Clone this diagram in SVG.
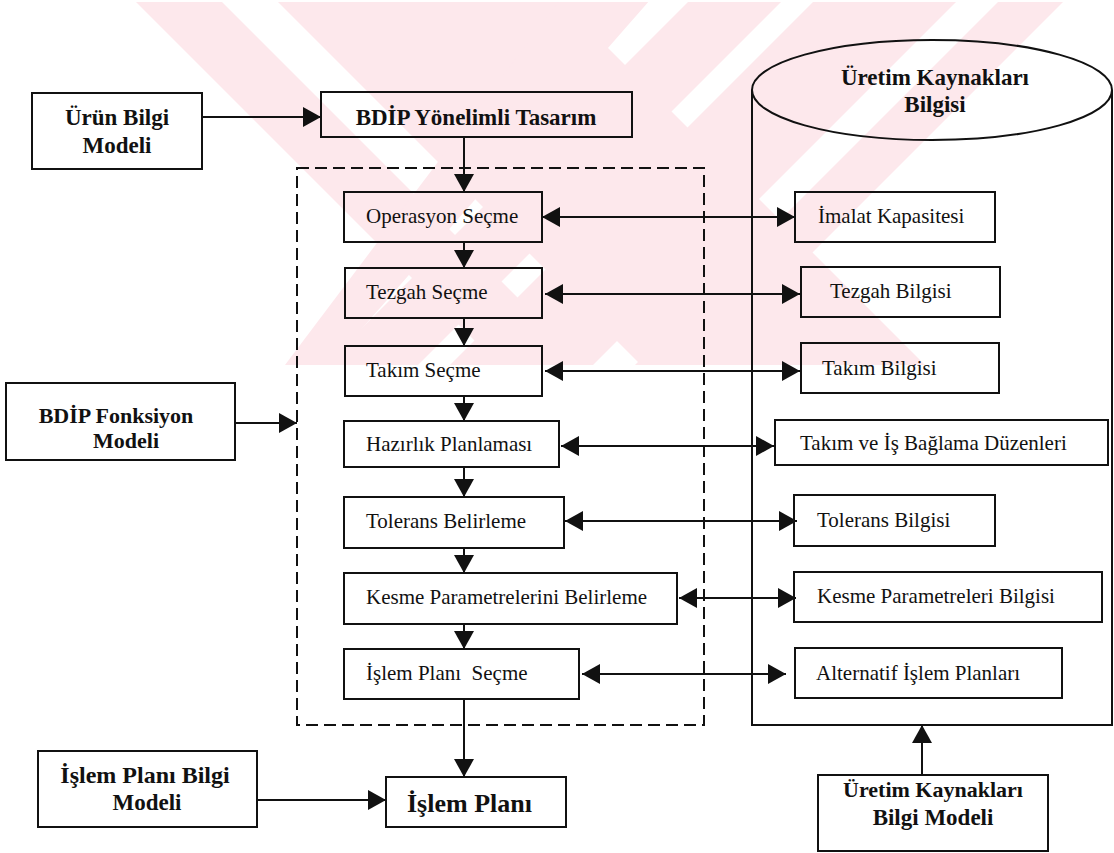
<svg xmlns="http://www.w3.org/2000/svg" width="1114" height="853" viewBox="0 0 1114 853">
<defs>
<style>
.box{fill:none;stroke:#111;stroke-width:2}
.dash{fill:none;stroke:#111;stroke-width:2;stroke-dasharray:12 6}
.ln{fill:none;stroke:#111;stroke-width:2}
.b{font-family:"Liberation Serif","Times New Roman",serif;font-weight:bold;font-size:23px;fill:#111}
.r{font-family:"Liberation Serif","Times New Roman",serif;font-size:21px;fill:#111}
.wm{fill:#fde8ec}
</style>
<marker id="ah" markerUnits="userSpaceOnUse" markerWidth="18" markerHeight="22" refX="18" refY="10" orient="auto-start-reverse" viewBox="0 0 18 20">
<path d="M0,0 L18,10 L0,20 z" fill="#111"/>
</marker>
<clipPath id="wmclip"><rect x="125" y="2" width="987" height="363"/></clipPath>
</defs>
<rect width="1114" height="853" fill="#fff"/>
<g id="watermark" clip-path="url(#wmclip)">
<polygon class="wm" points="134,0 220,0 590,370 504,370"/>
<polygon class="wm" points="276,0 560,0 930,370 646,370"/>
<polygon class="wm" points="560,0 650,0 330,365 285,365"/>
<polygon class="wm" points="690,0 783,0 413,370 320,370"/>
<polygon class="wm" points="815,0 958,0 588,370 445,370"/>
<polygon class="wm" points="1000,0 1065,0 695,370 630,370"/>
</g>
<g id="connectors">
<line class="ln" x1="202" y1="117" x2="321" y2="117" marker-end="url(#ah)"/>
<line class="ln" x1="464" y1="137" x2="464" y2="192" marker-end="url(#ah)"/>
<line class="ln" x1="235" y1="423" x2="297" y2="423" marker-end="url(#ah)"/>
<line class="ln" x1="464" y1="242" x2="464" y2="268" marker-end="url(#ah)"/>
<line class="ln" x1="464" y1="318" x2="464" y2="346" marker-end="url(#ah)"/>
<line class="ln" x1="464" y1="396" x2="464" y2="421" marker-end="url(#ah)"/>
<line class="ln" x1="464" y1="467" x2="464" y2="497" marker-end="url(#ah)"/>
<line class="ln" x1="464" y1="548" x2="464" y2="573" marker-end="url(#ah)"/>
<line class="ln" x1="464" y1="624" x2="464" y2="649" marker-end="url(#ah)"/>
<line class="ln" x1="464" y1="699" x2="464" y2="777" marker-end="url(#ah)"/>
<line class="ln" x1="257" y1="800" x2="386" y2="800" marker-end="url(#ah)"/>
<line class="ln" x1="922" y1="775" x2="922" y2="725" marker-end="url(#ah)"/>
<line class="ln" x1="542" y1="217" x2="795" y2="217" marker-start="url(#ah)" marker-end="url(#ah)"/>
<line class="ln" x1="545" y1="294" x2="800" y2="294" marker-start="url(#ah)" marker-end="url(#ah)"/>
<line class="ln" x1="545" y1="371" x2="800" y2="371" marker-start="url(#ah)" marker-end="url(#ah)"/>
<line class="ln" x1="561" y1="446" x2="774" y2="446" marker-start="url(#ah)" marker-end="url(#ah)"/>
<line class="ln" x1="565" y1="521" x2="797" y2="521" marker-start="url(#ah)" marker-end="url(#ah)"/>
<line class="ln" x1="679" y1="598" x2="796" y2="598" marker-start="url(#ah)" marker-end="url(#ah)"/>
<line class="ln" x1="582" y1="674" x2="786" y2="674" marker-start="url(#ah)" marker-end="url(#ah)"/>
</g>
<g id="dashed-frame">
<rect class="dash" x="297" y="168" width="407" height="557"/>
</g>
<g id="urun-bilgi-modeli">
<rect class="box" x="32" y="93" width="170" height="76"/>
<text class="b" x="117" y="125" text-anchor="middle">Ürün Bilgi</text>
<text class="b" x="117" y="153" text-anchor="middle">Modeli</text>
</g>
<g id="bdip-yonelimli">
<rect class="box" x="321" y="92" width="311" height="45"/>
<text class="b" x="476" y="125" text-anchor="middle">BDİP Yönelimli Tasarım</text>
</g>
<g id="uretim-kaynaklari-bilgisi">
<path class="box" d="M752,90 L752,725 L1112,725 L1112,90"/>
<ellipse class="box" cx="932" cy="90" rx="180" ry="50"/>
<text class="b" x="935" y="85" text-anchor="middle">Üretim Kaynakları</text>
<text class="b" x="935" y="112" text-anchor="middle">Bilgisi</text>
</g>
<g id="bdip-fonksiyon">
<rect class="box" x="6" y="383" width="229" height="77"/>
<text class="b" x="116" y="423" text-anchor="middle" style="font-size:22px">BDİP Fonksiyon</text>
<text class="b" x="126" y="448" text-anchor="middle" style="font-size:22px">Modeli</text>
</g>
<g id="operasyon-secme">
<rect class="box" x="344" y="192" width="198" height="50"/>
<text class="r" x="366" y="223">Operasyon Seçme</text>
</g>
<g id="tezgah-secme">
<rect class="box" x="345" y="268" width="197" height="50"/>
<text class="r" x="366" y="299">Tezgah Seçme</text>
</g>
<g id="takim-secme">
<rect class="box" x="345" y="346" width="197" height="50"/>
<text class="r" x="366" y="377">Takım Seçme</text>
</g>
<g id="hazirlik-planlamasi">
<rect class="box" x="344" y="421" width="215" height="46"/>
<text class="r" x="366" y="451">Hazırlık Planlaması</text>
</g>
<g id="tolerans-belirleme">
<rect class="box" x="344" y="497" width="220" height="51"/>
<text class="r" x="366" y="528">Tolerans Belirleme</text>
</g>
<g id="kesme-parametrelerini">
<rect class="box" x="344" y="573" width="333" height="51"/>
<text class="r" x="366" y="604">Kesme Parametrelerini Belirleme</text>
</g>
<g id="islem-plani-secme">
<rect class="box" x="344" y="649" width="235" height="50"/>
<text class="r" x="366" y="680" xml:space="preserve">İşlem Planı  Seçme</text>
</g>
<g id="imalat-kapasitesi">
<rect class="box" x="795" y="192" width="200" height="50"/>
<text class="r" x="818" y="223">İmalat Kapasitesi</text>
</g>
<g id="tezgah-bilgisi">
<rect class="box" x="801" y="267" width="199" height="50"/>
<text class="r" x="830" y="298">Tezgah Bilgisi</text>
</g>
<g id="takim-bilgisi">
<rect class="box" x="801" y="343" width="198" height="50"/>
<text class="r" x="822" y="375">Takım Bilgisi</text>
</g>
<g id="takim-is-baglama">
<rect class="box" x="775" y="420" width="333" height="45"/>
<text class="r" x="800" y="450">Takım ve İş Bağlama Düzenleri</text>
</g>
<g id="tolerans-bilgisi">
<rect class="box" x="794" y="495" width="201" height="51"/>
<text class="r" x="817" y="527">Tolerans Bilgisi</text>
</g>
<g id="kesme-parametreleri-bilgisi">
<rect class="box" x="794" y="572" width="308" height="50"/>
<text class="r" x="817" y="603">Kesme Parametreleri Bilgisi</text>
</g>
<g id="alternatif-islem-planlari">
<rect class="box" x="795" y="648" width="267" height="50"/>
<text class="r" x="816" y="680">Alternatif İşlem Planları</text>
</g>
<g id="islem-plani-bilgi-modeli">
<rect class="box" x="38" y="751" width="219" height="76"/>
<text class="b" x="145" y="783" text-anchor="middle" style="font-size:24px">İşlem Planı Bilgi</text>
<text class="b" x="147" y="810" text-anchor="middle">Modeli</text>
</g>
<g id="islem-plani">
<rect class="box" x="386" y="777" width="180" height="50"/>
<text class="b" x="407" y="812" style="font-size:26px">İşlem Planı</text>
</g>
<g id="uretim-kaynaklari-bilgi-modeli">
<rect class="box" x="818" y="775" width="230" height="76"/>
<text class="b" x="933" y="797" text-anchor="middle" style="font-size:22px">Üretim Kaynakları</text>
<text class="b" x="933" y="825" text-anchor="middle" style="font-size:23px">Bilgi Modeli</text>
</g>
</svg>
